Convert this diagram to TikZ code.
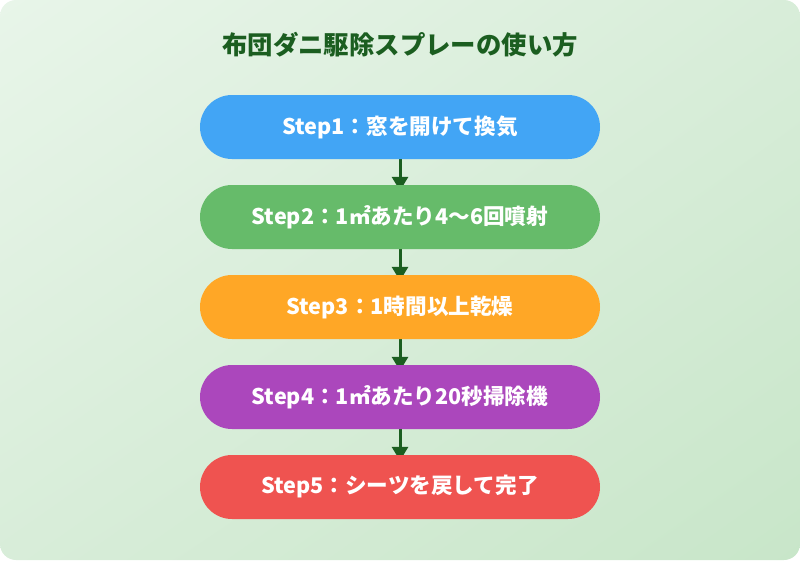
\documentclass[tikz,border=0pt]{standalone}
\usepackage{fontspec}
\setmainfont{Noto Sans CJK JP}
\usetikzlibrary{arrows.meta,backgrounds,shadings}
\definecolor{bgA}{HTML}{E8F5E9}
\definecolor{bgB}{HTML}{C8E6C9}
\definecolor{bgM}{HTML}{D8EDD9}
\definecolor{darkgreen}{HTML}{1B5E20}
\definecolor{cA}{HTML}{42A5F5}
\definecolor{cB}{HTML}{66BB6A}
\definecolor{cC}{HTML}{FFA726}
\definecolor{cD}{HTML}{AB47BC}
\definecolor{cE}{HTML}{EF5350}
\tikzset{
  stepbox/.style={rectangle, rounded corners=32pt, minimum width=400pt, minimum height=64pt,
    inner sep=0pt, text=white, font=\bfseries\fontsize{21.6}{26}\selectfont},
  flowarrow/.style={draw=darkgreen, line width=3pt,
    -{Triangle[width=16pt,length=14pt]}, shorten >=-6pt},
  titletext/.style={text=darkgreen, font=\bfseries\fontsize{25.4}{30}\selectfont}
}
\begin{document}
\begin{tikzpicture}[x=1pt,y=1pt]
\useasboundingbox (0,0) rectangle (800,-560);
\node[titletext] (title) at (400,-45) {布団ダニ駆除スプレーの使い方};
\node[stepbox, fill=cA] (s1) at (400,-127) {Step1：窓を開けて換気};
\node[stepbox, fill=cB] (s2) at (400,-217) {Step2：1㎡あたり4〜6回噴射};
\node[stepbox, fill=cC] (s3) at (400,-307) {Step3：1時間以上乾燥};
\node[stepbox, fill=cD] (s4) at (400,-397) {Step4：1㎡あたり20秒掃除機};
\node[stepbox, fill=cE] (s5) at (400,-487) {Step5：シーツを戻して完了};
\begin{scope}[on background layer]
  \shade[rounded corners=16pt, upper left=bgA, lower right=bgB, upper right=bgM, lower left=bgM]
    (0,0) rectangle (800,-560);
  \draw[flowarrow] (s1.south) -- (s2.north);
  \draw[flowarrow] (s2.south) -- (s3.north);
  \draw[flowarrow] (s3.south) -- (s4.north);
  \draw[flowarrow] (s4.south) -- (s5.north);
\end{scope}
\end{tikzpicture}
\end{document}
